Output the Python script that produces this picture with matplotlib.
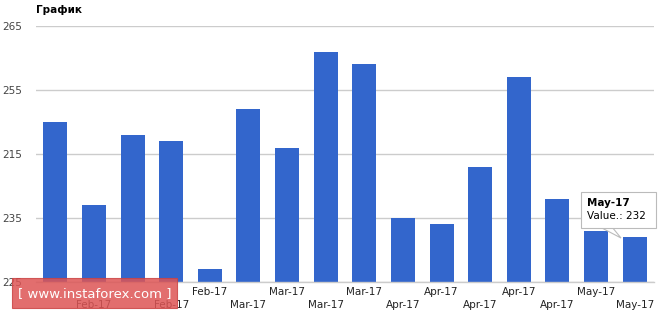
import matplotlib
matplotlib.use("Agg")
import matplotlib.pyplot as plt
from matplotlib.patches import Rectangle, Polygon

# labels of bars 1 and 3 are hidden behind the watermark in the reference
categories = ["", "Feb-17", "", "Feb-17", "Feb-17",
              "Mar-17", "Mar-17", "Mar-17", "Mar-17",
              "Apr-17", "Apr-17", "Apr-17", "Apr-17", "Apr-17",
              "May-17", "May-17"]
values = [250, 237, 248, 247, 227, 252, 246, 261, 259, 235, 234, 243, 257, 238, 233, 232]
y_ticks = [225, 235, 245, 255, 265]
y_tick_labels = ["225", "235", "215", "255", "265"]
title = "График"
tooltip_title = "May-17"
tooltip_text = "Value.: 232"
watermark = "[ www.instaforex.com ]"

W, H = 664, 316
fig = plt.figure(figsize=(W / 100, H / 100), dpi=100)
ax = fig.add_axes([36 / W, 1 - 282 / H, (654 - 36) / W, (282 - 26) / H])

x = list(range(len(values)))
ax.bar(x, [v - 225 for v in values], bottom=225, width=0.62, color="#3366cc", zorder=3)
ax.set_xlim(-0.5, len(values) - 0.5)
ax.set_ylim(225, 265)
ax.set_yticks(y_ticks)
ax.set_yticklabels(y_tick_labels)
ax.yaxis.grid(True, color="#cccccc", linewidth=1, zorder=0)
ax.tick_params(axis="y", length=0, pad=10, labelsize=7.5, labelcolor="#444444")
ax.set_xticks([])
for s in ["top", "right", "left"]:
    ax.spines[s].set_visible(False)
ax.spines["bottom"].set_color("#cccccc")
ax.spines["bottom"].set_linewidth(1)
ax.spines["bottom"].set_zorder(4)

# staggered x labels
for i, lab in enumerate(categories):
    if not lab:
        continue
    ypix = 292 if i % 2 == 0 else 305
    xpix_frac = ax.transData.transform((i, 225))[0] / W
    fig.text(xpix_frac, 1 - ypix / H, lab, ha="center", va="center",
             fontsize=7.5, color="#222222")

fig.text(36 / W, 1 - 10 / H, title, ha="left", va="center", fontsize=7.5,
         fontweight="bold", color="#000000")

# watermark
fig.patches.append(Rectangle((12 / W, 1 - 308 / H), (177 - 12) / W, 30 / H,
                             transform=fig.transFigure, facecolor="#dd5555",
                             alpha=0.85, edgecolor="#cc4444", linewidth=0.8, zorder=10))
fig.text(95 / W, 1 - 293.5 / H, watermark, ha="center", va="center", fontsize=9.5,
         color="white", zorder=11)

# tooltip
fig.patches.append(Polygon([(600 / W, 1 - 227 / H), (621 / W, 1 - 238 / H), (612 / W, 1 - 227 / H)],
                           closed=True, transform=fig.transFigure, facecolor="white",
                           edgecolor="#bbbbbb", linewidth=0.8, zorder=12))
fig.patches.append(Rectangle((581 / W, 1 - 228 / H), 75 / W, 36 / H,
                             transform=fig.transFigure, facecolor="white",
                             edgecolor="#bbbbbb", linewidth=0.8, zorder=12))
fig.text(587 / W, 1 - 203 / H, tooltip_title, ha="left", va="center", fontsize=7.5,
         fontweight="bold", color="#000000", zorder=13)
fig.text(587 / W, 1 - 216 / H, tooltip_text, ha="left", va="center", fontsize=7.5,
         color="#000000", zorder=13)

fig.savefig("out.png", dpi=100)
